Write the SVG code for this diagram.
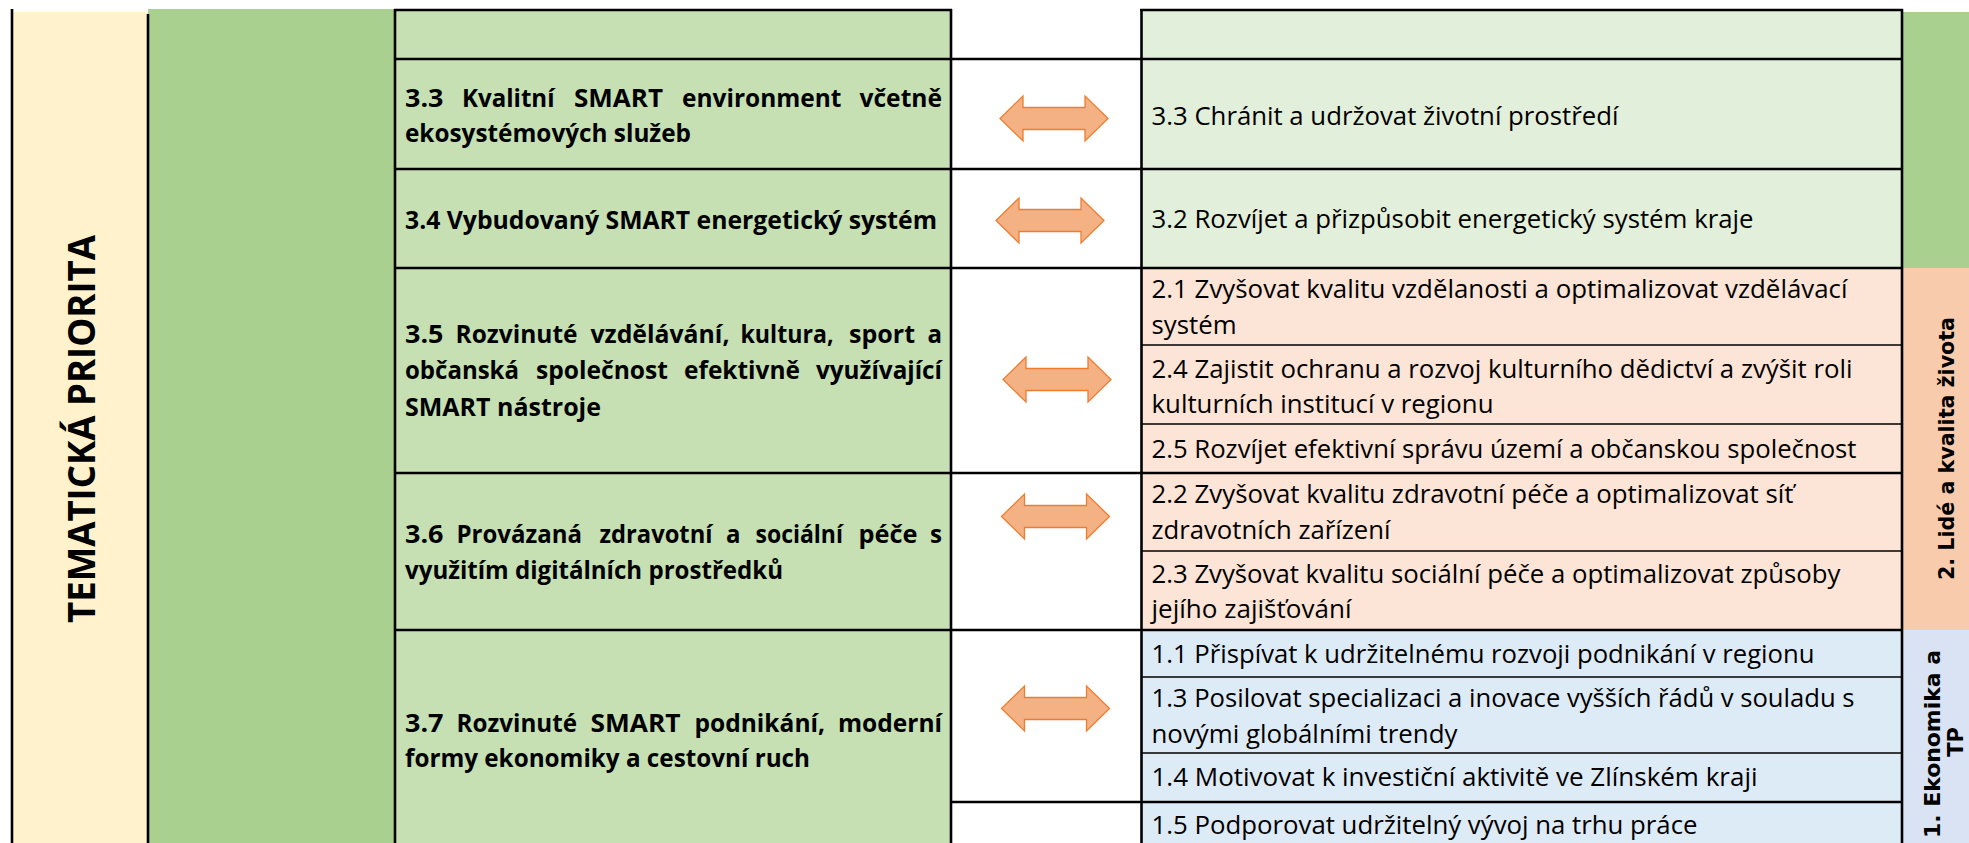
<svg xmlns="http://www.w3.org/2000/svg" xmlns:xlink="http://www.w3.org/1999/xlink" width="1969" height="843" viewBox="0 0 1969 843">
  <style>
    .b{font-family:"Open Sans","Noto Sans",sans-serif;font-weight:700;font-size:25px;fill:#000}
    .r{font-family:"Open Sans","Noto Sans",sans-serif;font-weight:400;font-size:25.5px;fill:#000}
    .hd{font-family:"Open Sans","Noto Sans",sans-serif;font-weight:700;font-size:38px;fill:#000}
    .v{font-family:"DejaVu Sans",sans-serif;font-weight:700;font-size:21px;fill:#000}
    .thick{stroke:#000;stroke-width:2.6;fill:none}
    .thin{stroke:#000;stroke-width:1.4;fill:none}
  </style>
  <defs>
    <!-- double-headed block arrow, centred on the origin -->
    <path id="dbl" d="M-54,0 L-31,-22.5 L-31,-11 L31,-11 L31,-22.5 L54,0 L31,22.5 L31,11 L-31,11 L-31,22.5 Z" fill="#F4B183" stroke="#ED7D31" stroke-width="1.3" stroke-linejoin="miter"/>
  </defs>

  <rect width="1969" height="843" fill="#fff"/>

  <!-- left heading column -->
  <g id="tematicka-priorita">
    <rect x="13" y="12" width="135" height="831" fill="#FFF2CC"/>
    <text class="hd" transform="translate(95,429) rotate(-90)" text-anchor="middle" textLength="388" lengthAdjust="spacingAndGlyphs">TEMATICKÁ PRIORITA</text>
  </g>

  <!-- empty green column -->
  <g id="priorita-3">
    <rect x="148" y="9" width="247" height="834" fill="#A9D08E"/>
  </g>

  <!-- left table: specific goals (justified lines are set word by word) -->
  <g id="tp-header"><rect x="395" y="10" width="556" height="49" fill="#C6E0B4"/></g>
  <g id="tp-3-3">
    <rect x="395" y="59" width="556" height="110" fill="#C6E0B4"/>
    <text class="b" y="106.5" lengthAdjust="spacingAndGlyphs"><tspan x="405" textLength="38.5" lengthAdjust="spacingAndGlyphs">3.3</tspan><tspan x="462" textLength="92.5" lengthAdjust="spacingAndGlyphs">Kvalitní</tspan><tspan x="574" textLength="89" lengthAdjust="spacingAndGlyphs">SMART</tspan><tspan x="682" textLength="159.5" lengthAdjust="spacingAndGlyphs">environment</tspan><tspan x="859.5" textLength="82.5" lengthAdjust="spacingAndGlyphs">včetně</tspan></text>
    <text class="b" x="405" y="142" textLength="286" lengthAdjust="spacingAndGlyphs">ekosystémových služeb</text>
  </g>
  <g id="tp-3-4">
    <rect x="395" y="169" width="556" height="99" fill="#C6E0B4"/>
    <text class="b" x="405" y="229.3" textLength="532" lengthAdjust="spacingAndGlyphs">3.4 Vybudovaný SMART energetický systém</text>
  </g>
  <g id="tp-3-5">
    <rect x="395" y="268" width="556" height="205" fill="#C6E0B4"/>
    <text class="b" y="343.3"><tspan x="405" textLength="38.5" lengthAdjust="spacingAndGlyphs">3.5</tspan><tspan x="455.5" textLength="122" lengthAdjust="spacingAndGlyphs">Rozvinuté</tspan><tspan x="590.5" textLength="139" lengthAdjust="spacingAndGlyphs">vzdělávání,</tspan><tspan x="740.5" textLength="93" lengthAdjust="spacingAndGlyphs">kultura,</tspan><tspan x="849" textLength="66" lengthAdjust="spacingAndGlyphs">sport</tspan><tspan x="927.5" textLength="14.5" lengthAdjust="spacingAndGlyphs">a</tspan></text>
    <text class="b" y="379.3"><tspan x="405" textLength="114" lengthAdjust="spacingAndGlyphs">občanská</tspan><tspan x="536" textLength="132" lengthAdjust="spacingAndGlyphs">společnost</tspan><tspan x="684" textLength="116" lengthAdjust="spacingAndGlyphs">efektivně</tspan><tspan x="816" textLength="126" lengthAdjust="spacingAndGlyphs">využívající</tspan></text>
    <text class="b" x="405" y="416" textLength="196" lengthAdjust="spacingAndGlyphs">SMART nástroje</text>
  </g>
  <g id="tp-3-6">
    <rect x="395" y="473" width="556" height="157" fill="#C6E0B4"/>
    <text class="b" y="543.3"><tspan x="405" textLength="38.5" lengthAdjust="spacingAndGlyphs">3.6</tspan><tspan x="456.5" textLength="125.5" lengthAdjust="spacingAndGlyphs">Provázaná</tspan><tspan x="599.5" textLength="113" lengthAdjust="spacingAndGlyphs">zdravotní</tspan><tspan x="726" textLength="14.5" lengthAdjust="spacingAndGlyphs">a</tspan><tspan x="755.5" textLength="87.5" lengthAdjust="spacingAndGlyphs">sociální</tspan><tspan x="858.5" textLength="59" lengthAdjust="spacingAndGlyphs">péče</tspan><tspan x="930" textLength="12" lengthAdjust="spacingAndGlyphs">s</tspan></text>
    <text class="b" x="405" y="579.3" textLength="378" lengthAdjust="spacingAndGlyphs">využitím digitálních prostředků</text>
  </g>
  <g id="tp-3-7">
    <rect x="395" y="630" width="556" height="213" fill="#C6E0B4"/>
    <text class="b" y="731.7"><tspan x="405" textLength="38.5" lengthAdjust="spacingAndGlyphs">3.7</tspan><tspan x="456.5" textLength="120.5" lengthAdjust="spacingAndGlyphs">Rozvinuté</tspan><tspan x="590.5" textLength="90" lengthAdjust="spacingAndGlyphs">SMART</tspan><tspan x="694.5" textLength="130.5" lengthAdjust="spacingAndGlyphs">podnikání,</tspan><tspan x="838" textLength="104" lengthAdjust="spacingAndGlyphs">moderní</tspan></text>
    <text class="b" x="405" y="766.7" textLength="405" lengthAdjust="spacingAndGlyphs">formy ekonomiky a cestovní ruch</text>
  </g>

  <!-- right table: regional strategy goals -->
  <g id="cil-header"><rect x="1141" y="10" width="761" height="49" fill="#E2EFDA"/></g>
  <g id="cil-3-3">
    <rect x="1141" y="59" width="761" height="110" fill="#E2EFDA"/>
    <text class="r" x="1151.5" y="125" textLength="467" lengthAdjust="spacingAndGlyphs">3.3 Chránit a udržovat životní prostředí</text>
  </g>
  <g id="cil-3-2">
    <rect x="1141" y="169" width="761" height="99" fill="#E2EFDA"/>
    <text class="r" x="1151.5" y="228.3" textLength="602" lengthAdjust="spacingAndGlyphs">3.2 Rozvíjet a přizpůsobit energetický systém kraje</text>
  </g>
  <g id="cil-2-1">
    <rect x="1141" y="268" width="761" height="77" fill="#FCE4D6"/>
    <text class="r" x="1151.5" y="298.3" textLength="696" lengthAdjust="spacingAndGlyphs">2.1 Zvyšovat kvalitu vzdělanosti a optimalizovat vzdělávací</text>
    <text class="r" x="1151.5" y="334" textLength="85" lengthAdjust="spacingAndGlyphs">systém</text>
  </g>
  <g id="cil-2-4">
    <rect x="1141" y="345" width="761" height="79" fill="#FCE4D6"/>
    <text class="r" x="1151.5" y="378.3" textLength="701" lengthAdjust="spacingAndGlyphs">2.4 Zajistit ochranu a rozvoj kulturního dědictví a zvýšit roli</text>
    <text class="r" x="1151.5" y="412.7" textLength="342" lengthAdjust="spacingAndGlyphs">kulturních institucí v regionu</text>
  </g>
  <g id="cil-2-5">
    <rect x="1141" y="424" width="761" height="49" fill="#FCE4D6"/>
    <text class="r" x="1151.5" y="458.3" textLength="705" lengthAdjust="spacingAndGlyphs">2.5 Rozvíjet efektivní správu území a občanskou společnost</text>
  </g>
  <g id="cil-2-2">
    <rect x="1141" y="473" width="761" height="78" fill="#FCE4D6"/>
    <text class="r" x="1151.5" y="503.3" textLength="642" lengthAdjust="spacingAndGlyphs">2.2 Zvyšovat kvalitu zdravotní péče a optimalizovat síť</text>
    <text class="r" x="1151.5" y="539.3" textLength="239" lengthAdjust="spacingAndGlyphs">zdravotních zařízení</text>
  </g>
  <g id="cil-2-3">
    <rect x="1141" y="551" width="761" height="79" fill="#FCE4D6"/>
    <text class="r" x="1151.5" y="583.3" textLength="689" lengthAdjust="spacingAndGlyphs">2.3 Zvyšovat kvalitu sociální péče a optimalizovat způsoby</text>
    <text class="r" x="1151.5" y="618.3" textLength="200" lengthAdjust="spacingAndGlyphs">jejího zajišťování</text>
  </g>
  <g id="cil-1-1">
    <rect x="1141" y="630" width="761" height="47" fill="#DDEBF7"/>
    <text class="r" x="1151.5" y="663.3" textLength="663" lengthAdjust="spacingAndGlyphs">1.1 Přispívat k udržitelnému rozvoji podnikání v regionu</text>
  </g>
  <g id="cil-1-3">
    <rect x="1141" y="677" width="761" height="76" fill="#DDEBF7"/>
    <text class="r" x="1151.5" y="706.7" textLength="703" lengthAdjust="spacingAndGlyphs">1.3 Posilovat specializaci a inovace vyšších řádů v souladu s</text>
    <text class="r" x="1151.5" y="742.7" textLength="306" lengthAdjust="spacingAndGlyphs">novými globálními trendy</text>
  </g>
  <g id="cil-1-4">
    <rect x="1141" y="753" width="761" height="49" fill="#DDEBF7"/>
    <text class="r" x="1151.5" y="786" textLength="606" lengthAdjust="spacingAndGlyphs">1.4 Motivovat k investiční aktivitě ve Zlínském kraji</text>
  </g>
  <g id="cil-1-5">
    <rect x="1141" y="802" width="761" height="41" fill="#DDEBF7"/>
    <text class="r" x="1151.5" y="834" textLength="546" lengthAdjust="spacingAndGlyphs">1.5 Podporovat udržitelný vývoj na trhu práce</text>
  </g>

  <!-- priority strips on the right edge -->
  <g id="priorita-zivotni-prostredi">
    <rect x="1902" y="12" width="67" height="256" fill="#A9D08E"/>
  </g>
  <g id="priorita-lide">
    <rect x="1902" y="268" width="67" height="362" fill="#F8CBAD"/>
    <text class="v" transform="translate(1954,448.5) rotate(-90)" text-anchor="middle" textLength="263" lengthAdjust="spacingAndGlyphs">2. Lidé a kvalita života</text>
  </g>
  <g id="priorita-ekonomika">
    <rect x="1902" y="630" width="67" height="213" fill="#DAE3F3"/>
    <text class="v" transform="translate(1939.5,744) rotate(-90)" text-anchor="middle" textLength="188" lengthAdjust="spacingAndGlyphs">1. Ekonomika a</text>
    <text class="v" transform="translate(1962.5,742) rotate(-90)" text-anchor="middle">TP</text>
  </g>

  <!-- table rules -->
  <g id="grid">
    <line class="thick" x1="12" y1="9" x2="12" y2="843"/>
    <line class="thick" x1="148" y1="14" x2="148" y2="843"/>
    <line class="thick" x1="395" y1="9" x2="395" y2="843"/>
    <line class="thick" x1="951" y1="9" x2="951" y2="843"/>
    <line class="thick" x1="1141.5" y1="9" x2="1141.5" y2="843"/>
    <line class="thick" x1="1902" y1="9" x2="1902" y2="843"/>
    <line class="thick" x1="394" y1="10" x2="952" y2="10"/>
    <line class="thick" x1="1140" y1="10" x2="1903" y2="10"/>
    <line class="thick" x1="394" y1="59" x2="1903" y2="59"/>
    <line class="thick" x1="394" y1="169" x2="1903" y2="169"/>
    <line class="thick" x1="394" y1="268" x2="1903" y2="268"/>
    <line class="thick" x1="394" y1="473" x2="1903" y2="473"/>
    <line class="thick" x1="394" y1="630" x2="1903" y2="630"/>
    <line class="thick" x1="951" y1="802" x2="1903" y2="802"/>
    <line class="thin" x1="1141" y1="345" x2="1902" y2="345"/>
    <line class="thin" x1="1141" y1="424" x2="1902" y2="424"/>
    <line class="thin" x1="1141" y1="551" x2="1902" y2="551"/>
    <line class="thin" x1="1141" y1="677" x2="1902" y2="677"/>
    <line class="thin" x1="1141" y1="753" x2="1902" y2="753"/>
  </g>

  <!-- links between the two tables -->
  <g id="connectors">
    <use xlink:href="#dbl" x="1054" y="118.5"/>
    <use xlink:href="#dbl" x="1050" y="220.5"/>
    <use xlink:href="#dbl" x="1057" y="379.5"/>
    <use xlink:href="#dbl" x="1055.5" y="516.5"/>
    <use xlink:href="#dbl" x="1055.5" y="708.5"/>
  </g>
</svg>
